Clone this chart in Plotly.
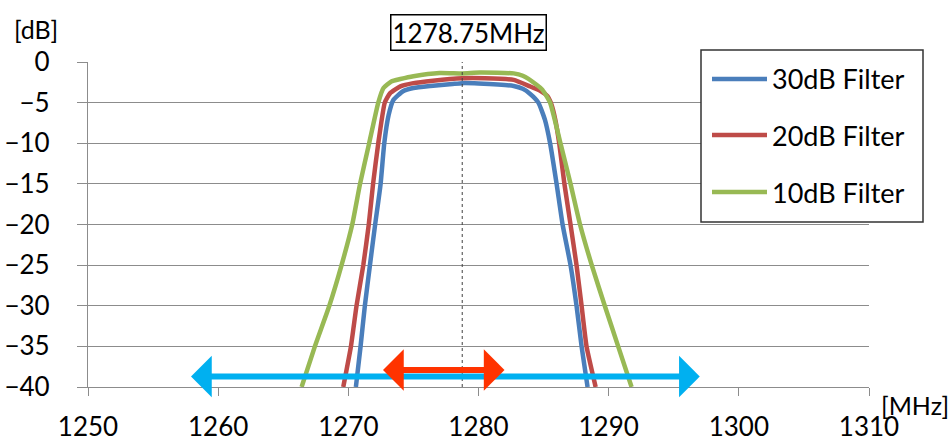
import plotly.graph_objects as go

# ---------------- data ----------------
series_names = ["30dB Filter", "20dB Filter", "10dB Filter"]
series_colors = ["#4A7EBB", "#BE4B48", "#98B954"]

freq_30 = [1270.58, 1270.94, 1271.27, 1271.66, 1272.06, 1272.48, 1272.76, 1273.1, 1273.45, 1274.2,
           1275.0, 1276.3, 1278.0, 1278.75, 1280.0, 1282.7, 1283.4, 1283.95, 1284.6, 1285.1,
           1285.5, 1286.0, 1286.46, 1287.07, 1287.53, 1287.92, 1288.38]
db_30 = [-40, -35, -30, -25, -20, -15, -10, -6.5, -4.7, -3.6,
         -3.2, -2.95, -2.7, -2.6, -2.65, -2.95, -3.3, -3.9, -5.0, -7.1,
         -10, -15, -20, -25, -30, -35, -40]

freq_20 = [1269.61, 1270.2, 1270.63, 1271.15, 1271.57, 1271.9, 1272.3, 1272.8, 1273.2, 1274.0,
           1275.0, 1276.5, 1278.75, 1280.5, 1282.7, 1283.95, 1284.8, 1285.3, 1285.6, 1285.9,
           1286.2, 1286.6, 1287.07, 1287.53, 1287.92, 1288.3, 1289.0]
db_20 = [-40, -35, -30, -25, -20, -15, -10, -5, -3.86, -3.0,
         -2.6, -2.3, -2.0, -2.0, -2.2, -3.0, -3.6, -4.2, -5.2, -7.1,
         -10, -15, -20, -25, -30, -35, -40]

freq_10 = [1266.41, 1267.43, 1268.54, 1269.48, 1270.3, 1270.9, 1271.6, 1272.3, 1272.7, 1273.3,
           1274.0, 1275.0, 1277.0, 1278.75, 1280.1, 1282.7, 1283.4, 1284.46, 1284.9, 1285.5,
           1286.3, 1287.07, 1287.8, 1288.7, 1289.7, 1290.73, 1291.76]
db_10 = [-40, -35, -30, -25, -20, -15, -10, -5, -3.2, -2.4,
         -2.1, -1.75, -1.35, -1.4, -1.3, -1.4, -1.7, -2.8, -3.4, -5,
         -10, -15, -20, -25, -30, -35, -40]

center_freq = 1278.75
center_label = "1278.75MHz"

# double arrows: [start MHz, end MHz, level dB]
wide_arrow = [1257.8, 1297.0, -38.7]
narrow_arrow = [1272.55, 1282.0, -37.9]

x_ticks = [1250, 1260, 1270, 1280, 1290, 1300, 1310]
y_ticks = [0, -5, -10, -15, -20, -25, -30, -35, -40]

# ---------------- layout constants ----------------
W, H = 952, 442
L, R, T, B = 88, 869, 62, 387  # plot area in pixels
FONT = "Lato"
FS = 26
GRID = "#8C8C8C"


def px_x(p):
    return (p - L) / (R - L)


def px_y(p):
    return (B - p) / (B - T)


fig = go.Figure()
for name, col, xs, ys in zip(series_names, series_colors,
                              [freq_30, freq_20, freq_10], [db_30, db_20, db_10]):
    fig.add_trace(go.Scatter(x=xs, y=ys, mode="lines", name=name,
                             line=dict(color=col, width=4.5, shape="spline", smoothing=0.45),
                             showlegend=False))

shapes = []
annotations = []

# center dotted line
shapes.append(dict(type="line", xref="x", yref="y", x0=center_freq, x1=center_freq,
                   y0=y_ticks[-1], y1=y_ticks[0], line=dict(color="#404040", width=1, dash="dot"),
                   layer="above"))

# center label box
annotations.append(dict(x=center_freq, y=px_y(32), xref="x", yref="paper", text=center_label,
                        showarrow=False, xshift=6, font=dict(family=FONT, size=FS, color="black"),
                        bordercolor="black", borderwidth=1.5, borderpad=1, bgcolor="white",
                        xanchor="center", yanchor="middle"))

# arrows
for arr, col in [(wide_arrow, "#00B0F0"), (narrow_arrow, "#FF3300")]:
    annotations.append(dict(x=arr[1], y=arr[2], ax=arr[0], ay=arr[2], xref="x", yref="y",
                            axref="x", ayref="y", text="", showarrow=True,
                            arrowhead=1, startarrowhead=1, arrowside="end+start",
                            arrowwidth=6, arrowsize=1.15, startarrowsize=1.15, arrowcolor=col))

# manual legend
shapes.append(dict(type="rect", xref="paper", yref="paper", x0=px_x(701), x1=px_x(923),
                   y0=px_y(222), y1=px_y(50), line=dict(color="#333333", width=1.5),
                   fillcolor="white", layer="above"))
for i, (name, col) in enumerate(zip(series_names, series_colors)):
    yy = [79, 135, 192][i]
    shapes.append(dict(type="line", xref="paper", yref="paper", x0=px_x(712), x1=px_x(767),
                       y0=px_y(yy), y1=px_y(yy), line=dict(color=col, width=4.5), layer="above"))
    annotations.append(dict(x=px_x(770), y=px_y(yy), xref="paper", yref="paper", text=name,
                            showarrow=False, xanchor="left", yanchor="middle",
                            font=dict(family=FONT, size=FS + 1, color="black")))

# axis unit labels
annotations.append(dict(x=px_x(36), y=px_y(29), xref="paper", yref="paper", text="[dB]",
                        showarrow=False, xanchor="center", yanchor="middle",
                        font=dict(family=FONT, size=FS - 1, color="black")))
annotations.append(dict(x=px_x(915), y=px_y(405), xref="paper", yref="paper", text="[MHz]",
                        showarrow=False, xanchor="center", yanchor="middle",
                        font=dict(family=FONT, size=FS - 1, color="black")))

fig.update_layout(
    width=W, height=H,
    margin=dict(l=L, r=W - R, t=T, b=H - B, autoexpand=False),
    paper_bgcolor="white", plot_bgcolor="white",
    font=dict(family=FONT, size=FS, color="black"),
    shapes=shapes, annotations=annotations, showlegend=False,
    xaxis=dict(range=[x_ticks[0], x_ticks[-1]], tickvals=x_ticks, showgrid=False, zeroline=False,
               showline=True, linecolor=GRID, linewidth=1.3, ticks="outside", ticklen=8,
               tickcolor=GRID, tickwidth=1.3, ticklabelstandoff=9,
               tickfont=dict(family=FONT, size=FS, color="black")),
    yaxis=dict(range=[y_ticks[-1], y_ticks[0]], tickvals=y_ticks, showgrid=True, gridcolor=GRID,
               gridwidth=1.3, zeroline=False, showline=True, linecolor=GRID, linewidth=1.3,
               ticks="outside", ticklen=10, tickcolor=GRID, tickwidth=1.3, ticklabelstandoff=22,
               tickfont=dict(family=FONT, size=FS, color="black")),
)

fig.write_html("out.html")
